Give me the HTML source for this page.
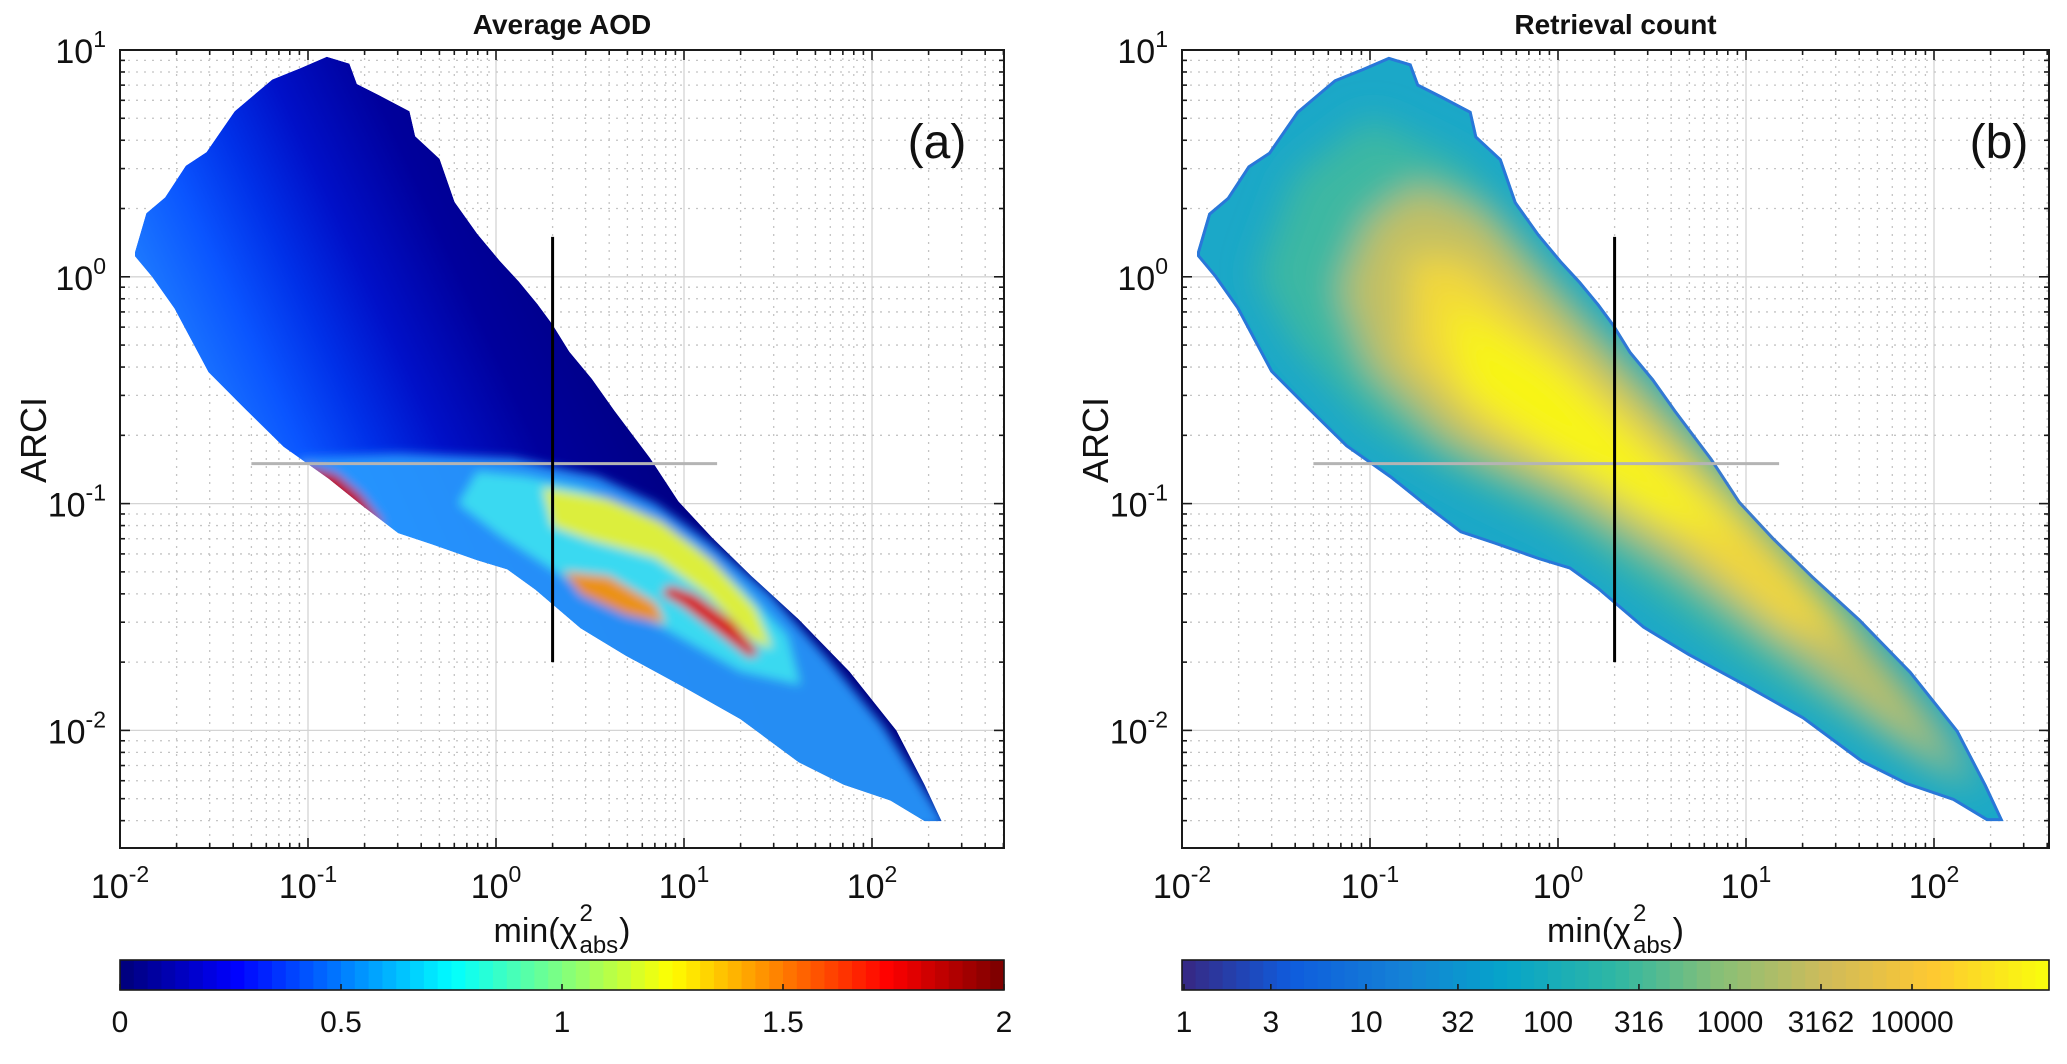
<!DOCTYPE html>
<html><head><meta charset="utf-8"><style>
html,body{margin:0;padding:0;background:#fff;}
svg{display:block;font-family:"Liberation Sans",Arial,sans-serif;}
</style></head><body>
<svg id="fig" xmlns="http://www.w3.org/2000/svg" width="2067" height="1064" viewBox="0 0 2067 1064">
<defs>
<filter id="blurA" x="-20%" y="-20%" width="140%" height="140%"><feGaussianBlur stdDeviation="5"/></filter>
<filter id="blurB" x="-20%" y="-20%" width="140%" height="140%"><feGaussianBlur stdDeviation="18"/></filter>
</defs>
</svg>
<script>
// ---------- data (log10 units) ----------
const envelopeUpper = [[-1.92,0.11],[-1.86,0.28],[-1.76,0.35],[-1.65,0.49],[-1.54,0.55],[-1.39,0.73],[-1.19,0.87],[-1.04,0.92],[-0.90,0.97],[-0.78,0.94],[-0.74,0.85],[-0.62,0.80],[-0.46,0.73],[-0.43,0.62],[-0.30,0.52],[-0.22,0.33],[-0.10,0.19],[0.02,0.07],[0.12,-0.02],[0.22,-0.12],[0.30,-0.21],[0.39,-0.33],[0.51,-0.45],[0.63,-0.59],[0.82,-0.80],[0.97,-0.99],[1.15,-1.15],[1.36,-1.32],[1.61,-1.51],[1.88,-1.74],[2.13,-2.00],[2.28,-2.24],[2.37,-2.40]];
const envelopeLower = [[2.28,-2.40],[2.10,-2.31],[1.85,-2.24],[1.61,-2.14],[1.30,-1.95],[1.00,-1.81],[0.69,-1.67],[0.45,-1.55],[0.21,-1.38],[0.06,-1.29],[-0.10,-1.25],[-0.34,-1.18],[-0.52,-1.13],[-0.71,-1.01],[-0.89,-0.89],[-1.13,-0.75],[-1.35,-0.57],[-1.53,-0.42],[-1.71,-0.14],[-1.83,0.00],[-1.92,0.09]];
// AOD contour regions (panel a)
const aodLightBlue = [[-1.04,-0.80],[-0.52,-0.78],[0.09,-0.80],[0.54,-0.88],[0.85,-1.00],[1.15,-1.18],[1.46,-1.40],[1.76,-1.68],[2.06,-1.98],[2.40,-2.42],[2.06,-2.45],[1.61,-2.25],[1.0,-1.95],[0.45,-1.65],[-0.10,-1.35],[-0.68,-1.15],[-1.10,-0.90]];
const aodCyan = [[-0.10,-0.86],[0.15,-0.88],[0.45,-0.93],[0.75,-1.03],[1.05,-1.18],[1.32,-1.38],[1.55,-1.58],[1.62,-1.80],[1.30,-1.74],[0.85,-1.53],[0.39,-1.34],[0.02,-1.14],[-0.20,-1.00]];
const aodYellow = [[0.25,-0.93],[0.60,-0.98],[0.88,-1.08],[1.15,-1.25],[1.38,-1.46],[1.47,-1.64],[1.36,-1.60],[1.12,-1.40],[0.85,-1.24],[0.50,-1.16],[0.30,-1.10]];
const aodOrange = [[0.36,-1.30],[0.60,-1.32],[0.85,-1.44],[0.90,-1.53],[0.69,-1.49],[0.45,-1.40]];
const aodRed = [[0.92,-1.36],[1.06,-1.40],[1.26,-1.52],[1.40,-1.66],[1.35,-1.68],[1.18,-1.57],[0.99,-1.45],[0.88,-1.40]];
const aodRedLeft = [[-1.02,-0.83],[-0.85,-0.87],[-0.72,-0.96],[-0.60,-1.09],[-0.67,-1.10],[-0.84,-1.00],[-1.00,-0.89]];
// count contour regions (panel b)
const cntGreen = [[-1.4,0.45],[-1.0,0.70],[-0.5,0.50],[0,0.0],[0.5,-0.45],[1.0,-0.95],[1.5,-1.45],[2.0,-1.95],[2.3,-2.3],[2.0,-2.2],[1.5,-1.95],[1.0,-1.7],[0.5,-1.40],[0,-1.10],[-0.5,-0.90],[-1.0,-0.65],[-1.4,-0.30],[-1.6,0.0]];
const cntOrange = [[-1.0,0.25],[-0.75,0.40],[-0.4,0.28],[0.1,-0.18],[0.6,-0.62],[1.2,-1.15],[1.8,-1.75],[2.2,-2.2],[1.8,-2.0],[1.2,-1.62],[0.6,-1.25],[0,-0.95],[-0.6,-0.72],[-1.0,-0.40],[-1.15,-0.05]];
const cntYellow = [[-0.8,0.10],[-0.5,0.08],[0,-0.3],[0.5,-0.7],[1.0,-1.1],[1.6,-1.6],[1.2,-1.55],[0.7,-1.2],[0.2,-0.92],[-0.4,-0.68],[-0.8,-0.35]];
const cntCore = [[-0.6,-0.1],[0,-0.4],[0.5,-0.8],[1.0,-1.15],[0.5,-1.05],[0,-0.8],[-0.5,-0.5]];
// reference lines (data values)
const vLineX = 2, vLineY = [0.02, 1.5];
const hLineY = 0.15, hLineX = [0.05, 15];
// tick data
const xDecades = [-2,-1,0,1,2];
const yDecades = [1,0,-1,-2];
const aodTicks = [0,0.5,1,1.5,2];
const aodTickLabels = ['0','0.5','1','1.5','2'];
const cntTicks = [1,3,10,32,100,316,1000,3162,10000];
const cntTickLabels = ['1','3','10','32','100','316','1000','3162','10000'];

// ---------- layout ----------
const svg = document.getElementById('fig');
const NS = 'http://www.w3.org/2000/svg';
const Y0 = 50, Y1 = 848, DEC_X = 188, DEC_Y = 226.8;
const panels = [{x0:120, x1:1004, id:'a'}, {x0:1182, x1:2049, id:'b'}];
function mk(tag, parent){ const e = document.createElementNS(NS, tag); (parent||svg).appendChild(e); return e; }
function sa(e, o){ for (const k in o) e.setAttribute(k, o[k]); return e; }
function X(p, lx){ return p.x0 + (lx + 2) * DEC_X; }
function Y(ly){ return Y0 + (1 - ly) * DEC_Y; }
function pts(p, arr){ return arr.map(d => X(p,d[0]).toFixed(1)+','+Y(d[1]).toFixed(1)).join(' '); }
const log = Math.log10;

function jet(t){
  const r = Math.min(Math.max(Math.min(4*t-1.5, -4*t+4.5),0),1);
  const g = Math.min(Math.max(Math.min(4*t-0.5, -4*t+3.5),0),1);
  const b = Math.min(Math.max(Math.min(4*t+0.5, -4*t+2.5),0),1);
  return 'rgb('+Math.round(r*255)+','+Math.round(g*255)+','+Math.round(b*255)+')';
}
const parAnch = [[0,[53,42,135]],[0.12,[15,92,221]],[0.25,[20,129,214]],[0.37,[6,164,202]],[0.5,[46,183,164]],[0.62,[135,191,119]],[0.75,[209,187,89]],[0.87,[254,200,50]],[1,[249,251,14]]];
function parula(t){
  for (let i=1;i<parAnch.length;i++){ if (t<=parAnch[i][0]){ const a=parAnch[i-1], b=parAnch[i]; const f=(t-a[0])/(b[0]-a[0]);
    return 'rgb('+[0,1,2].map(k=>Math.round(a[1][k]+(b[1][k]-a[1][k])*f)).join(',')+')'; } }
  return 'rgb(249,251,14)';
}

const envAll = envelopeUpper.concat(envelopeLower);

panels.forEach((p, pi) => {
  const g = mk('g');
  
  
  const cpA = mk('clipPath', svg.querySelector('defs')); sa(cpA, {id:'axclip'+pi});
  sa(mk('rect', cpA), {x:p.x0, y:Y0, width:p.x1-p.x0, height:Y1-Y0});
  const cpE = mk('clipPath', svg.querySelector('defs')); sa(cpE, {id:'envclip'+pi});
  sa(mk('polygon', cpE), {points: pts(p, envAll)});

  // grid
  const grid = mk('g', g); sa(grid, {'clip-path':'url(#axclip'+pi+')'});
  
  
  for (let d=-2; d<=2; d++) for (let k=1;k<=9;k++){
    const lx = d + log(k); const x = X(p,lx); if (x<=p.x0+0.5||x>=p.x1) continue;
    sa(mk('line', grid), {x1:x,x2:x,y1:Y0,y2:Y1, stroke: k==1?'#d4d4d4':'#c4c4c4', 'stroke-width':1.3, 'stroke-dasharray': k==1?'none':'2 6'});
  }
  for (let d=-3; d<=0; d++) for (let k=1;k<=9;k++){
    const ly = d + log(k); const y = Y(ly); if (y<=Y0+0.5||y>=Y1) continue;
    sa(mk('line', grid), {x1:p.x0,x2:p.x1,y1:y,y2:y, stroke: k==1?'#d4d4d4':'#c4c4c4', 'stroke-width':1.3, 'stroke-dasharray': k==1?'none':'2 6'});
  }

  // heatmap
  const hm = mk('g', g); sa(hm, {'clip-path':'url(#envclip'+pi+')'});
  
  
  if (pi==0){
    const lg = mk('linearGradient', svg.querySelector('defs'));
    sa(lg, {id:'aodbase', gradientUnits:'userSpaceOnUse', x1:X(p,0.3), y1:Y(0.5), x2:X(p,-1.8), y2:Y(-0.3)});
    [[0,'#000080'],[0.3,'#00009c'],[0.5,'#0010c8'],[0.65,'#0030e8'],[0.8,'#0a55ff'],[1,'#2080ff']].forEach(s=>sa(mk('stop',lg),{offset:s[0],'stop-color':s[1]}));
    sa(mk('polygon', hm), {points:pts(p, envAll), fill:'url(#aodbase)'});
    const bl = mk('g', hm); sa(bl, {filter:'url(#blurA)'});
    const layers = [[aodLightBlue,'#2a9cff',0.9,'aod-level-light-blue'],[aodCyan,'#40e6f0',0.85,'aod-level-cyan'],[aodYellow,'#eef02a',0.9,'aod-level-yellow'],[aodOrange,'#ff8a00',0.9,'aod-level-orange'],[aodRed,'#d81000',1,'aod-level-red'],[aodRedLeft,'#c00000',1,'aod-level-red-left']];
    layers.forEach(L => {
      const e = mk('polygon', bl); sa(e, {points:pts(p,L[0]), fill:L[1], 'fill-opacity':L[2]});
      
      
    });
  } else {
    sa(mk('polygon', hm), {points:pts(p, envAll), fill:'#1ba8c8'});
    const bl = mk('g', hm); sa(bl, {filter:'url(#blurB)'});
    const layers = [[cntGreen,'#3fb8a0',0.95,'count-level-green'],[cntOrange,'#c9c060',0.95,'count-level-orange'],[cntYellow,'#f4d838',0.95,'count-level-yellow'],[cntCore,'#f8f518',1,'count-level-core']];
    layers.forEach(L => {
      const e = mk('polygon', bl); sa(e, {points:pts(p,L[0]), fill:L[1], 'fill-opacity':L[2]});
      
      
    });
    sa(mk('polygon', hm), {points:pts(p, envAll), fill:'none', stroke:'#2b6fdc', 'stroke-width':6, 'stroke-opacity':0.85});
  }

  // reference lines
  const hl = mk('line', g); sa(hl, {x1:X(p,log(hLineX[0])), x2:X(p,log(hLineX[1])), y1:Y(log(hLineY)), y2:Y(log(hLineY)), stroke:'#b4b4b4', 'stroke-width':3});
  
  
  const vl = mk('line', g); sa(vl, {x1:X(p,log(vLineX)), x2:X(p,log(vLineX)), y1:Y(log(vLineY[0])), y2:Y(log(vLineY[1])), stroke:'#000', 'stroke-width':3});
  
  

  // axis box + ticks
  const box = mk('rect', g); sa(box, {x:p.x0, y:Y0, width:p.x1-p.x0, height:Y1-Y0, fill:'none', stroke:'#1a1a1a', 'stroke-width':2});
  
  
  const tk = mk('g', g); sa(tk, {stroke:'#1a1a1a', 'stroke-width':1.6});
  for (let d=-2; d<=2; d++) for (let k=1;k<=9;k++){
    const x = X(p, d+log(k)); if (x<=p.x0+0.5||x>=p.x1) continue; const L = k==1?10:5;
    sa(mk('line',tk),{x1:x,x2:x,y1:Y1,y2:Y1-L}); sa(mk('line',tk),{x1:x,x2:x,y1:Y0,y2:Y0+L});
  }
  for (let d=-3; d<=0; d++) for (let k=1;k<=9;k++){
    const y = Y(d+log(k)); if (y<=Y0+0.5||y>=Y1) continue; const L = k==1?10:5;
    sa(mk('line',tk),{x1:p.x0,x2:p.x0+L,y1:y,y2:y}); sa(mk('line',tk),{x1:p.x1,x2:p.x1-L,y1:y,y2:y});
  }

  // tick labels
  xDecades.forEach(d => {
    const t = mk('text', g); sa(t, {x:X(p,d), y:898, 'text-anchor':'middle', 'font-size':34, fill:'#111'});
    
    
    t.textContent = '10'; const s = mk('tspan', t); sa(s, {dy:-16, 'font-size':23}); s.textContent = String(d);
  });
  yDecades.forEach(d => {
    const t = mk('text', g); sa(t, {x:p.x0-14, y:Y(d)+13, 'text-anchor':'end', 'font-size':34, fill:'#111'});
    
    
    t.textContent = '10'; const s = mk('tspan', t); sa(s, {dy:-16, 'font-size':23}); s.textContent = String(d);
  });

  // axis labels, title, panel letter
  const yl = mk('text', g); sa(yl, {x:0, y:0, transform:'translate('+(p.x0-74)+',440) rotate(-90)', 'text-anchor':'middle', 'font-size':36, fill:'#111'});
  
  
  yl.textContent = 'ARCI';

  const cx = (p.x0 + p.x1)/2;
  const xl = mk('g', g);
  
  
  const t1 = mk('text', xl); sa(t1, {x:0, y:942, 'font-size':34, fill:'#111'}); t1.textContent = 'min(\u03C7';
  const w1 = t1.getComputedTextLength();
  const t2 = mk('text', xl); sa(t2, {x:w1+2, y:921, 'font-size':24, fill:'#111'}); t2.textContent = '2';
  const t3 = mk('text', xl); sa(t3, {x:w1+2, y:953, 'font-size':24, fill:'#111'}); t3.textContent = 'abs';
  const w3 = t3.getComputedTextLength();
  const t4 = mk('text', xl); sa(t4, {x:w1+w3+3, y:942, 'font-size':34, fill:'#111'}); t4.textContent = ')';
  const wt = w1 + w3 + 3 + t4.getComputedTextLength();
  sa(xl, {transform:'translate('+(cx - wt/2)+',0)'});

  const ti = mk('text', g); sa(ti, {x:cx, y:34, 'text-anchor':'middle', 'font-size':28, 'font-weight':'bold', fill:'#111'});
  
  
  ti.textContent = pi==0 ? 'Average AOD' : 'Retrieval count';

  const pl = mk('text', g); sa(pl, {x:p.x0+817, y:158, 'text-anchor':'middle', 'font-size':48, fill:'#111'});
  
  
  pl.textContent = pi==0 ? '(a)' : '(b)';

  // colorbar
  const cb = mk('g', g);
  
  
  const CT = 960, CB = 990, N = 64, w = (p.x1 - p.x0)/N;
  for (let i=0;i<N;i++){
    sa(mk('rect', cb), {x:p.x0 + i*w, y:CT, width:w+0.6, height:CB-CT, fill: pi==0 ? jet(i/(N-1)) : parula(i/(N-1))});
  }
  sa(mk('rect', cb), {x:p.x0, y:CT, width:p.x1-p.x0, height:CB-CT, fill:'none', stroke:'#1a1a1a', 'stroke-width':1.6});
  const vals = pi==0 ? aodTicks : cntTicks, labs = pi==0 ? aodTickLabels : cntTickLabels;
  vals.forEach((v, i) => {
    const x = pi==0 ? p.x0 + (v/2)*(p.x1-p.x0) : 1184 + 182*log(v);
    sa(mk('line', cb), {x1:x, x2:x, y1:CB, y2:CB-6, stroke:'#1a1a1a', 'stroke-width':1.6});
    const t = mk('text', cb); sa(t, {x:x, y:1032, 'text-anchor':'middle', 'font-size':30, fill:'#111'});
    
    
    t.textContent = labs[i];
  });
});
</script>
</body></html>
